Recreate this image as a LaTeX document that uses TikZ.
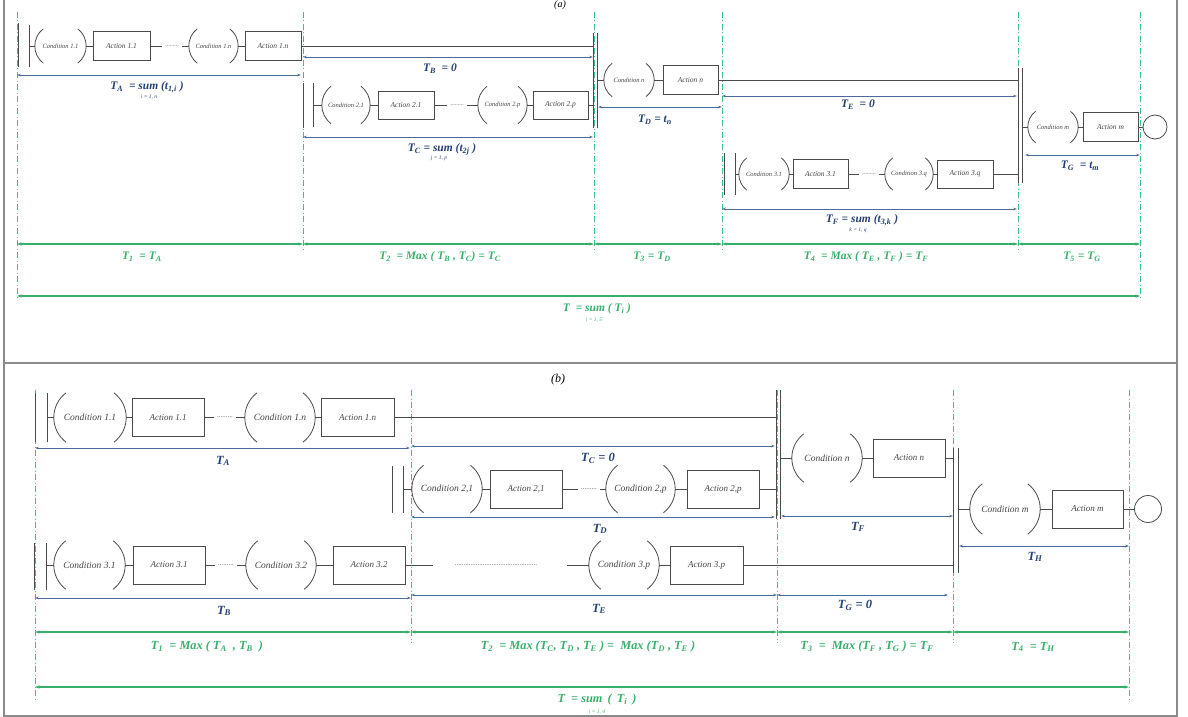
\documentclass[tikz,border=0pt]{standalone}
\usepackage{fontspec}
\setmainfont{Liberation Serif}
\usetikzlibrary{arrows.meta,calc}
\definecolor{ln}{HTML}{4A4A4A}
\definecolor{bl}{HTML}{4A6A9C}
\definecolor{blt}{HTML}{233F73}
\definecolor{gr}{HTML}{36B06B}
\definecolor{grd}{HTML}{3CC08A}
\definecolor{txt}{HTML}{444444}
\definecolor{frm}{HTML}{8A8A8A}
\tikzset{
  el/.style={draw=ln, line width=0.8pt},
  barline/.style={draw=ln, line width=1pt},
  frame/.style={draw=frm, line width=1.3pt},
  condbox/.style={inner sep=0pt, font=\fontsize{6.5}{7}\selectfont\itshape, text=txt},
  actbox/.style={draw=ln, line width=0.8pt, inner sep=0pt, font=\fontsize{7.5}{8}\selectfont\itshape, text=txt},
  dotsn/.style={inner xsep=3pt, inner ysep=0.5pt, font=\fontsize{6}{6}\selectfont, text=ln},
  vdash/.style={draw=grd, line width=1pt, dash pattern=on 6pt off 2.5pt on 1pt off 2.5pt},
  barr/.style={draw=bl, line width=0.8pt, {Stealth[length=4pt,width=2.6pt]}-{Stealth[length=4pt,width=2.6pt]}},
  garr/.style={draw=gr, line width=1.2pt, {Stealth[length=4.5pt,width=3pt]}-{Stealth[length=4.5pt,width=3pt]}},
  blab/.style={text=blt, font=\fontsize{11.5}{13}\selectfont\bfseries\itshape, inner sep=0pt},
  glab/.style={text=gr, font=\fontsize{11.5}{13}\selectfont\bfseries\itshape, inner sep=0pt},
  sublab/.style={font=\fontsize{5.5}{6}\selectfont\itshape, inner sep=0pt},
  plab/.style={font=\fontsize{12}{13}\selectfont\itshape, inner sep=0pt},
}
% condition: name, x left apex, x right apex, y centre, half height, text
\newcommand\cndn[6]{%
  \node[condbox, minimum width={#3-#2}, minimum height={2*#5}] (#1) at ({(#2+#3)/2},#4) {#6};
  \draw[el] ($(#1.north west)+({0.5*#5},0)$) .. controls ($(#1.west)+({-#5/6},{-#5/2})$) and ($(#1.west)+({-#5/6},{#5/2})$) .. ($(#1.south west)+({0.5*#5},0)$);
  \draw[el] ($(#1.north east)+({-0.5*#5},0)$) .. controls ($(#1.east)+({#5/6},{-#5/2})$) and ($(#1.east)+({#5/6},{#5/2})$) .. ($(#1.south east)+({-0.5*#5},0)$);
}
% action: name, x left, x right, y centre, half height, text
\newcommand\actn[6]{%
  \node[actbox, minimum width={#3-#2}, minimum height={2*#5}] (#1) at ({(#2+#3)/2},#4) {#6};
}
\begin{document}
\begin{tikzpicture}[x=1pt,y=-1pt]
\useasboundingbox (0,0) rectangle (1188,717);
\draw[frame] (4,-5) rectangle (1177,716);
\draw[frame] (4,363) -- (1177,363);
\node[plab, font=\fontsize{10}{11}\selectfont\itshape] (pa) at (560,5) {(a)};
\node[plab] (pb) at (558,380) {(b)};

%================ PANEL (a) ================
\foreach \n/\x/\b in {0/17/300,1/303/250,2/594/250,3/722/250,4/1018/250,5/1140/300} {
  \coordinate (va\n) at (\x,12);
  \draw[vdash] (va\n) -- (\x,\b);
}
% row 1
\draw[barline] (18,23) -- (18,67);
\draw[barline] (29,25) coordinate (aS1) -- (29,67);
\cndn{ac11}{35}{86}{46}{17}{Condition 1.1}
\actn{aa11}{93}{150}{46}{14.5}{Action 1.1}
\node[dotsn] (ad1) at (172,46) {.........};
\cndn{ac1n}{189}{238}{46}{17}{Condition 1.n}
\actn{aa1n}{245}{301}{46}{14.5}{Action 1.n}
% row 2
\draw[barline] (303,83) -- (303,128);
\draw[barline] (313,83) coordinate (aS2) -- (313,127);
\cndn{ac21}{322}{370}{105}{18.5}{Condition 2.1}
\actn{aa21}{378}{434}{105}{14}{Action 2.1}
\node[dotsn] (ad2) at (457,105) {.........};
\cndn{ac2p}{478}{527}{105}{18.5}{Condition 2.p}
\actn{aa2p}{533}{588}{105}{14}{Action 2.p}
% sync bar 1
\draw[barline] (593,33) coordinate (aJ1) -- (593,128);
\draw[barline] (597,33) coordinate (aJ1r) -- (597,128);
% row n
\cndn{acn}{604}{654}{80}{16.5}{Condition n}
\actn{aan}{663}{718}{80}{14.5}{Action n}
% row 3
\draw[barline] (724,153) -- (724,195);
\draw[barline] (735,153) coordinate (aS3) -- (735,195);
\cndn{ac31}{739}{789}{174}{16}{Condition 3.1}
\actn{aa31}{793}{848}{174}{14.5}{Action 3.1}
\node[dotsn] (ad3) at (869,174) {.........};
\cndn{ac3q}{885}{933}{174}{16}{Condition 3.q}
\actn{aa3q}{937}{993}{174}{14}{Action 3.q}
% sync bar 2
\draw[barline] (1018,68) coordinate (aK1) -- (1018,183);
\draw[barline] (1022,68) coordinate (aK1r) -- (1022,183);
% row m
\cndn{acm}{1028}{1078}{127}{15.5}{Condition m}
\actn{aam}{1083}{1138}{127}{14.5}{Action m}
\node[draw=ln, line width=0.8pt, circle, minimum size=24pt, inner sep=0pt] (aend) at (1155,127) {};
% connectors (a)
\draw[el] (aS1 |- ac11.west) -- (ac11.west);
\draw[el] (ac11.east) -- (aa11.west);
\draw[el] (aa11.east) -- (ad1.west);
\draw[el] (ad1.east) -- (ac1n.west);
\draw[el] (ac1n.east) -- (aa1n.west);
\draw[el] (aa1n.east) -- (aJ1 |- aa1n.east);
\draw[el] (aS2 |- ac21.west) -- (ac21.west);
\draw[el] (ac21.east) -- (aa21.west);
\draw[el] (aa21.east) -- (ad2.west);
\draw[el] (ad2.east) -- (ac2p.west);
\draw[el] (ac2p.east) -- (aa2p.west);
\draw[el] (aa2p.east) -- (aJ1 |- aa2p.east);
\draw[el] (aJ1r |- acn.west) -- (acn.west);
\draw[el] (acn.east) -- (aan.west);
\draw[el] (aan.east) -- (aK1 |- aan.east);
\draw[el] (aS3 |- ac31.west) -- (ac31.west);
\draw[el] (ac31.east) -- (aa31.west);
\draw[el] (aa31.east) -- (ad3.west);
\draw[el] (ad3.east) -- (ac3q.west);
\draw[el] (ac3q.east) -- (aa3q.west);
\draw[el] (aa3q.east) -- (aK1 |- aa3q.east);
\draw[el] (aK1r |- acm.west) -- (acm.west);
\draw[el] (acm.east) -- (aam.west);
\draw[el] (aam.east) -- (aend.west);
% blue dimension lines (a)
\draw[barr] (va0 |- 0,75) -- ([xshift=-2pt]va1 |- 0,75);
\node[blab] (aTA) at (147,87) {T\textsubscript{A} \ = sum (t\textsubscript{1,i} )};
\node[sublab, text=blt] (aTAs) at (149,97) {i = 1, n};
\draw[barr] (va1 |- 0,57) -- (aJ1 |- 0,57);
\node[blab] (aTB) at (440,69) {T\textsubscript{B} \ = 0};
\draw[barr] (va1 |- 0,137) -- (aJ1 |- 0,137);
\node[blab] (aTC) at (442,149) {T\textsubscript{C} = sum (t\textsubscript{2j} )};
\node[sublab, text=blt] (aTCs) at (439,158) {j = 1, p};
\draw[barr] ([xshift=1pt]aJ1r |- 0,107) -- (va3 |- 0,107);
\node[blab] (aTD) at (655,120) {T\textsubscript{D} = t\textsubscript{n}};
\draw[barr] (va3 |- 0,96) -- ([xshift=-1pt]aK1 |- 0,96);
\node[blab] (aTE) at (858,105) {T\textsubscript{E} \ = 0};
\draw[barr] (va3 |- 0,209) -- ([xshift=-1pt]va4 |- 0,209);
\node[blab] (aTF) at (862,220) {T\textsubscript{F} = sum (t\textsubscript{3,k} )};
\node[sublab, text=blt] (aTFs) at (858,230) {k = 1, q};
\draw[barr] ([xshift=3pt]aK1r |- 0,155) -- (va5 |- 0,155);
\node[blab] (aTG) at (1080,166) {T\textsubscript{G} \ = t\textsubscript{m}};
% green dimension lines (a)
\draw[garr] (va0 |- 0,244) -- (va1 |- 0,244);
\draw[garr] (va1 |- 0,244) -- (va2 |- 0,244);
\draw[garr] (va2 |- 0,244) -- (va3 |- 0,244);
\draw[garr] (va3 |- 0,244) -- (va4 |- 0,244);
\draw[garr] (va4 |- 0,244) -- (va5 |- 0,244);
\draw[garr] (va0 |- 0,296) -- (va5 |- 0,296);
\node[glab] (aT1) at (142,257) {T\textsubscript{1} \ = T\textsubscript{A}};
\node[glab] (aT2) at (440,257) {T\textsubscript{2} \ = Max ( T\textsubscript{B} , T\textsubscript{C}) = T\textsubscript{C}};
\node[glab] (aT3) at (652,257) {T\textsubscript{3} = T\textsubscript{D}};
\node[glab] (aT4) at (866,257) {T\textsubscript{4} \ = Max ( T\textsubscript{E} , T\textsubscript{F} ) = T\textsubscript{F}};
\node[glab] (aT5) at (1082,257) {T\textsubscript{5} = T\textsubscript{G}};
\node[glab] (aT) at (597,309) {T \ = sum ( T\textsubscript{i} )};
\node[sublab, text=gr] (aTs) at (594,320) {i = 1, 5};

%================ PANEL (b) ================
\tikzset{
  condbox/.append style={font=\fontsize{9.5}{10}\selectfont\itshape},
  actbox/.append style={font=\fontsize{9}{10}\selectfont\itshape},
  blab/.append style={font=\fontsize{12.5}{14}\selectfont\bfseries\itshape},
  glab/.append style={font=\fontsize{12.3}{14}\selectfont\bfseries\itshape},
  dotsn/.append style={font=\fontsize{7}{7}\selectfont},
}
\foreach \n/\x/\b in {0/35/702,1/411/643,2/777/643,3/953/643,4/1129/702} {
  \coordinate (vb\n) at (\x,390);
  \draw[vdash] (vb\n) -- (\x,\b);
}
% row 1
\draw[barline] (35,393) -- (35,442);
\draw[barline] (47,393) coordinate (bS1) -- (47,442);
\cndn{bc11}{54}{126}{417.5}{24.5}{Condition 1.1}
\actn{ba11}{132}{204}{417.5}{19}{Action 1.1}
\node[dotsn] (bd1) at (225,417.5) {.........};
\cndn{bc1n}{245}{315}{417.5}{24.5}{Condition 1.n}
\actn{ba1n}{321}{394}{417.5}{19}{Action 1.n}
% row 2
\draw[barline] (392,466) -- (392,513);
\draw[barline] (403,466) coordinate (bS2) -- (403,513);
\cndn{bc21}{412}{482}{489}{23.5}{Condition 2,1}
\actn{ba21}{490}{562}{489}{19}{Action 2,1}
\node[dotsn] (bd2) at (589,489) {.........};
\cndn{bc2p}{606}{675}{489}{23.5}{Condition 2,p}
\actn{ba2p}{687}{759}{489}{19}{Action 2,p}
% sync bar 1
\draw[barline] (776,390) coordinate (bJ1) -- (776,519);
\draw[barline] (780,390) coordinate (bJ1r) -- (780,519);
% row n
\cndn{bcn}{792}{862}{458}{24}{Condition n}
\actn{ban}{873}{945}{458}{19}{Action n}
% sync bar 2
\draw[barline] (953,448) coordinate (bK1) -- (953,573);
\draw[barline] (958,448) coordinate (bK1r) -- (958,573);
% row m
\cndn{bcm}{970}{1040}{509}{25}{Condition m}
\actn{bam}{1052}{1123}{509}{19}{Action m}
\node[draw=ln, line width=0.8pt, circle, minimum size=27pt, inner sep=0pt] (bend) at (1148,509) {};
% row 3
\draw[barline] (34,543) -- (34,590);
\draw[barline] (46,543) coordinate (bS3) -- (46,590);
\cndn{bc31}{54}{125}{565}{24}{Condition 3.1}
\actn{ba31}{133}{205}{565}{19}{Action 3.1}
\node[dotsn] (bd3) at (226,565) {.........};
\cndn{bc32}{246}{316}{565}{24}{Condition 3.2}
\actn{ba32}{333}{405}{565}{19}{Action 3.2}
\coordinate (br3a) at (433,565);
\node[dotsn, inner xsep=0pt] (bd4) at (496,565) {...............................................};
\coordinate (br3b) at (567,565);
\cndn{bc3p}{589}{659}{565}{24}{Condition 3.p}
\actn{ba3p}{670}{743}{565}{19}{Action 3.p}
% connectors (b)
\draw[el] (bS1 |- bc11.west) -- (bc11.west);
\draw[el] (bc11.east) -- (ba11.west);
\draw[el] (ba11.east) -- (bd1.west);
\draw[el] (bd1.east) -- (bc1n.west);
\draw[el] (bc1n.east) -- (ba1n.west);
\draw[el] (ba1n.east) -- (bJ1 |- ba1n.east);
\draw[el] (bS2 |- bc21.west) -- (bc21.west);
\draw[el] (bc21.east) -- (ba21.west);
\draw[el] (ba21.east) -- (bd2.west);
\draw[el] (bd2.east) -- (bc2p.west);
\draw[el] (bc2p.east) -- (ba2p.west);
\draw[el] (ba2p.east) -- (bJ1 |- ba2p.east);
\draw[el] (bJ1r |- bcn.west) -- (bcn.west);
\draw[el] (bcn.east) -- (ban.west);
\draw[el] (ban.east) -- (bK1 |- ban.east);
\draw[el] (bK1r |- bcm.west) -- (bcm.west);
\draw[el] (bcm.east) -- (bam.west);
\draw[el] (bam.east) -- (bend.west);
\draw[el] (bS3 |- bc31.west) -- (bc31.west);
\draw[el] (bc31.east) -- (ba31.west);
\draw[el] (ba31.east) -- (bd3.west);
\draw[el] (bd3.east) -- (bc32.west);
\draw[el] (bc32.east) -- (ba32.west);
\draw[el] (ba32.east) -- (br3a);
\draw[el] (br3b) -- (bc3p.west);
\draw[el] (bc3p.east) -- (ba3p.west);
\draw[el] (ba3p.east) -- (bK1 |- ba3p.east);
% blue dimension lines (b)
\draw[barr] (vb0 |- 0,448) -- ([xshift=-1pt]vb1 |- 0,448);
\node[blab] (bTA) at (223,461) {T\textsubscript{A}};
\draw[barr] (vb1 |- 0,446) -- ([xshift=-1pt]bJ1 |- 0,446);
\node[blab] (bTC) at (598,458) {T\textsubscript{C} = 0};
\draw[barr] (vb1 |- 0,517) -- ([xshift=-1pt]bJ1 |- 0,517);
\node[blab] (bTD) at (600,529) {T\textsubscript{D}};
\draw[barr] ([xshift=1pt]bJ1r |- 0,516) -- (vb3 |- 0,516);
\node[blab] (bTF) at (858,527) {T\textsubscript{F}};
\draw[barr] ([xshift=1pt]bK1r |- 0,546) -- (vb4 |- 0,546);
\node[blab] (bTH) at (1035,557) {T\textsubscript{H}};
\draw[barr] (vb0 |- 0,598) -- (vb1 |- 0,598);
\node[blab] (bTB) at (224,611) {T\textsubscript{B}};
\draw[barr] (vb1 |- 0,595) -- (vb2 |- 0,595);
\node[blab] (bTE) at (599,609) {T\textsubscript{E}};
\draw[barr] (vb2 |- 0,595) -- ([xshift=-5pt]vb3 |- 0,595);
\node[blab] (bTG) at (855,605) {T\textsubscript{G} = 0};
% green dimension lines (b)
\draw[garr] (vb0 |- 0,632) -- (vb1 |- 0,632);
\draw[garr] (vb1 |- 0,632) -- (vb2 |- 0,632);
\draw[garr] (vb2 |- 0,632) -- (vb3 |- 0,632);
\draw[garr] (vb3 |- 0,632) -- (vb4 |- 0,632);
\draw[garr] (vb0 |- 0,687) -- (vb4 |- 0,687);
\node[glab] (bT1) at (207,647) {T\textsubscript{1} \ = Max ( T\textsubscript{A} \ , T\textsubscript{B} \ )};
\node[glab] (bT2) at (588,647) {T\textsubscript{2} \ = Max (T\textsubscript{C}, T\textsubscript{D} , T\textsubscript{E} ) = \ Max (T\textsubscript{D} , T\textsubscript{E} )};
\node[glab] (bT3) at (867,647) {T\textsubscript{3} \ = \ Max (T\textsubscript{F} , T\textsubscript{G} ) = T\textsubscript{F}};
\node[glab] (bT4) at (1033,647) {T\textsubscript{4} \ = T\textsubscript{H}};
\node[glab] (bT) at (597,700) {T \ = sum \,( \,T\textsubscript{i} \,)};
\node[sublab, text=gr] (bTs) at (597,712) {i = 1, 4};
\end{tikzpicture}
\end{document}
